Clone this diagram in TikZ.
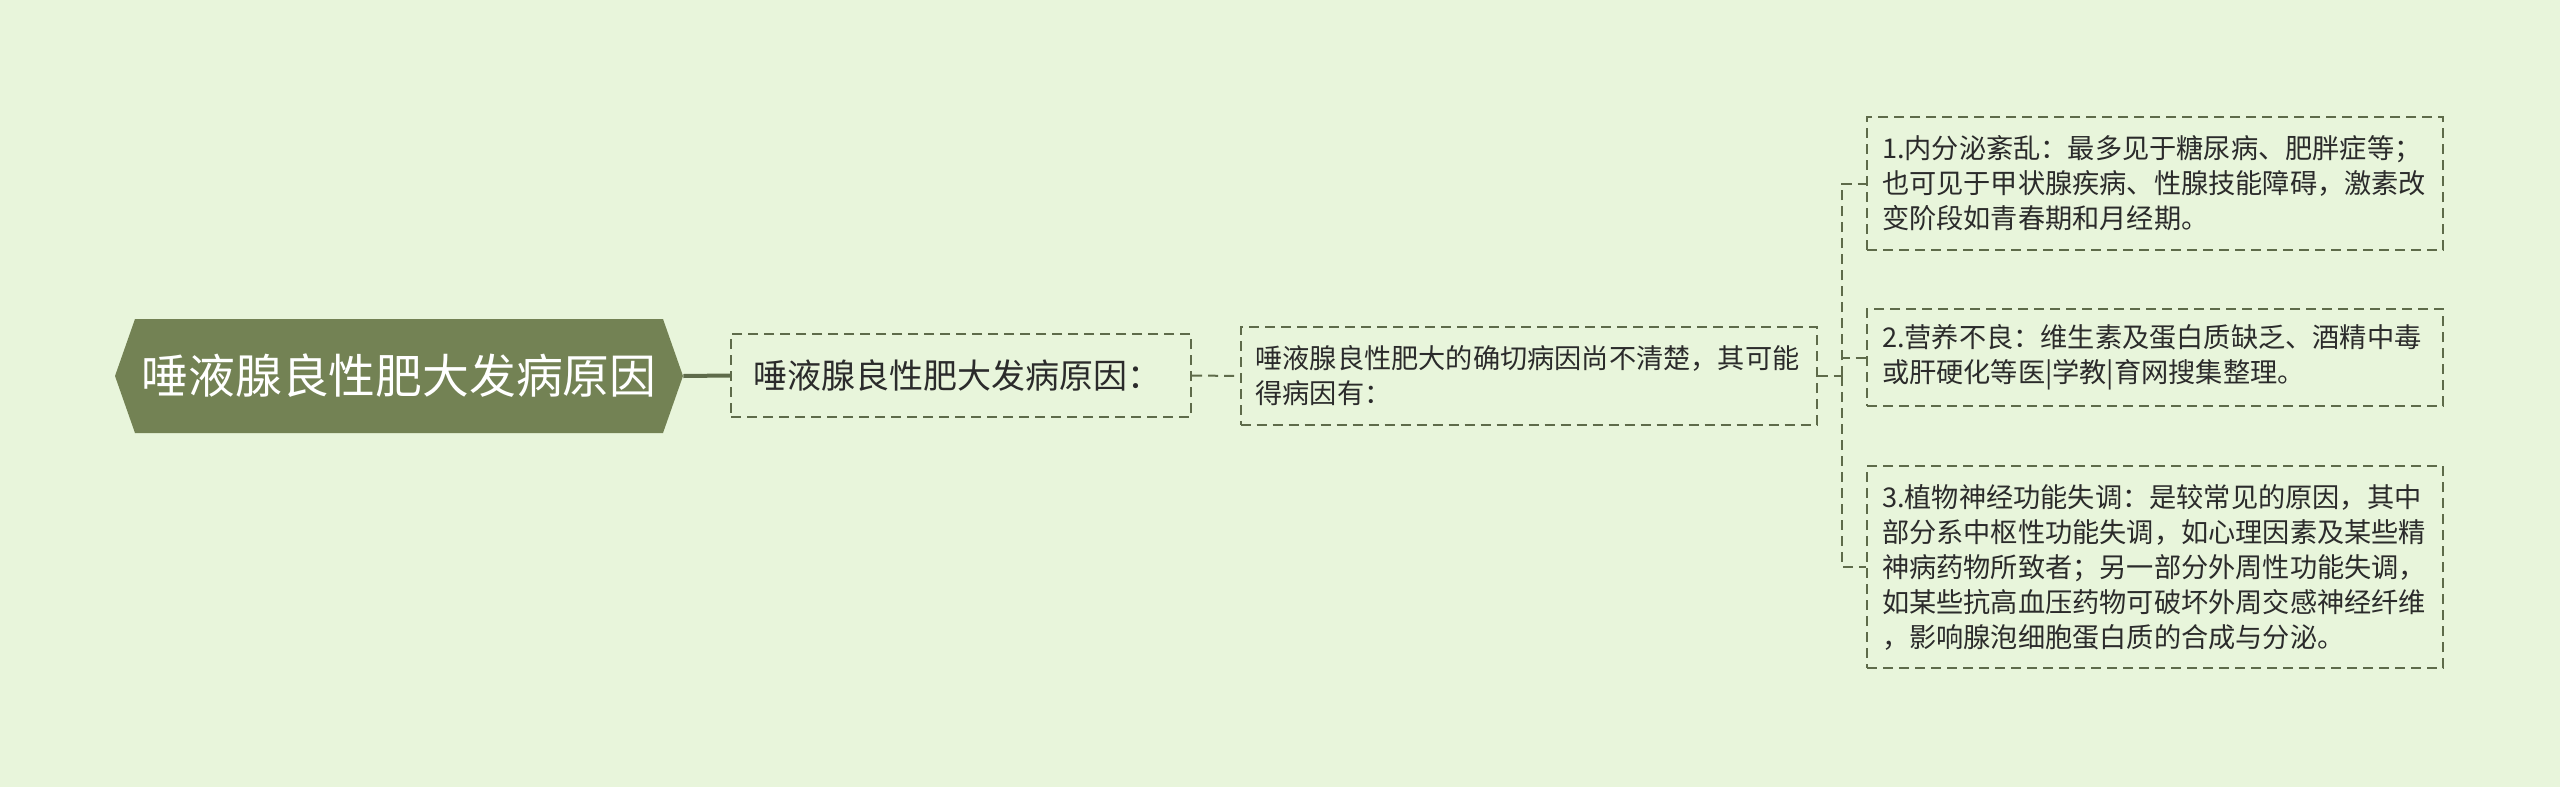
\documentclass[tikz,border=0pt]{standalone}
\usepackage{fontspec}
\setmainfont{Noto Sans CJK SC}
\usepackage{tikz}
\definecolor{mbg}{rgb}{0.91, 0.96, 0.86}
\definecolor{mroot}{rgb}{0.45, 0.51, 0.33}
\definecolor{mline}{rgb}{0.37, 0.42, 0.29}
\definecolor{mtext}{rgb}{0.17, 0.17, 0.17}
\tikzset{box/.style = {draw = mline, line width = 1pt, dash pattern = on 5pt off 3pt,
                       text = mtext, inner xsep = 7.5pt, inner ysep = 0pt},
         leaf/.style = {box, align = left, text width = 273pt,
                        font = \fontsize{13.6pt}{17.5pt}\selectfont},
         link/.style = {mline, line width = 1pt, dash pattern = on 5pt off 3pt}}

\begin{document}
\begin{tikzpicture}[x = 0.5pt, y = -0.5pt]
      \fill [mbg] (0, 0) rectangle (2560, 787);
      \fill [mroot] (115, 376) -- (135, 319) -- (663, 319) -- (683, 376) -- (663, 433) -- (135, 433) -- cycle;
      \node (root) at (399, 376) [minimum width = 284pt, minimum height = 57pt, inner sep = 0pt, text = white,
            font = \fontsize{23.4pt}{28pt}\selectfont] {唾液腺良性肥大发病原因};
      \node (cause) at (961, 375.5) [box, align = left, text width = 208pt, inner xsep = 11pt, minimum height = 41.5pt,
            font = \fontsize{17pt}{20pt}\selectfont] {唾液腺良性肥大发病原因：};
      \node (unclear) at (1528.5, 376) [leaf, minimum height = 49pt]
            {唾液腺良性肥大的确切病因尚不清楚，其可能\\得病因有：};
      \node (c1) at (2155, 183.5) [leaf, minimum height = 66.5pt]
            {1.内分泌紊乱：最多见于糖尿病、肥胖症等；\\也可见于甲状腺疾病、性腺技能障碍，激素改\\变阶段如青春期和月经期。};
      \node (c2) at (2155, 357.5) [leaf, minimum height = 48.5pt]
            {2.营养不良：维生素及蛋白质缺乏、酒精中毒\\或肝硬化等医|学教|育网搜集整理。};
      \node (c3) at (2155, 567) [leaf, minimum height = 101pt]
            {3.植物神经功能失调：是较常见的原因，其中\\部分系中枢性功能失调，如心理因素及某些精\\神病药物所致者；另一部分外周性功能失调，\\如某些抗高血压药物可破坏外周交感神经纤维\\，影响腺泡细胞蛋白质的合成与分泌。};
      \coordinate (fork) at (1842, 376);
      \draw [mline, line width = 2pt] (root.east) -- (cause.west);
      \draw [link] (cause.east) -- (unclear.west);
      \draw [link] (unclear.east) -- (fork);
      \foreach \c in {c1, c2, c3}
        \draw [link] (fork) |- (\c.west);
    \end{tikzpicture}
\end{document}
